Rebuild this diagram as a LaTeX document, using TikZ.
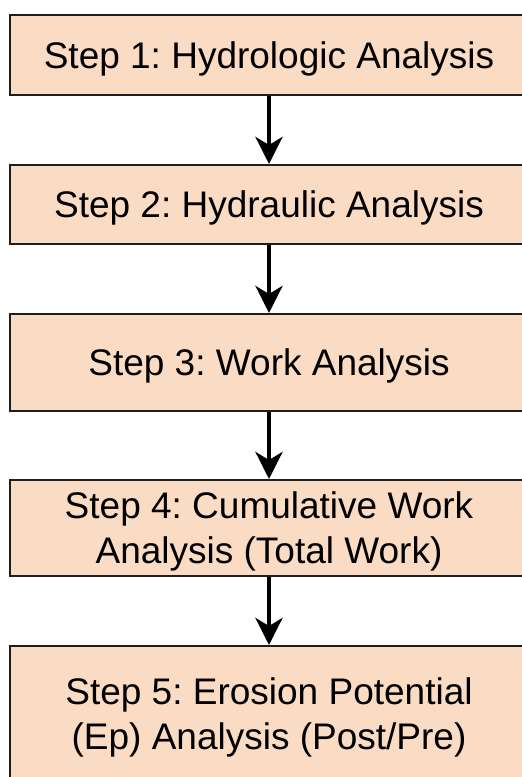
\documentclass[tikz,border=0pt]{standalone}
\usepackage{fontspec}
\setmainfont{Liberation Sans}
\usetikzlibrary{arrows.meta}
\definecolor{boxfill}{RGB}{250,219,196}
\definecolor{boxline}{RGB}{30,30,30}
\tikzset{
  stepbox/.style={draw=boxline, line width=2pt, fill=boxfill, minimum width=518pt,
    align=center, inner sep=0pt, text height=26.5pt, text depth=0pt,
    font=\fontsize{37}{45}\selectfont\frenchspacing},
  twoline/.style={text height=71.5pt, text depth=0pt},
  arr/.style={line width=4.5pt, -{Stealth[length=27pt,width=27pt,inset=8pt]}}
}
\begin{document}
\begin{tikzpicture}[x=1pt,y=-1pt]
\useasboundingbox (0,0) rectangle (522,777);
\clip (0,0) rectangle (522,777);
\node[stepbox, minimum height=80pt] (b1) at (269,55) {Step 1: Hydrologic Analysis};
\node[stepbox, minimum height=79pt] (b2) at (269,204.5) {Step 2: Hydraulic Analysis};
\node[stepbox, minimum height=97pt] (b3) at (269,362.5) {Step 3: Work Analysis};
\node[stepbox, twoline, minimum height=96pt] (b4) at (269,528) {Step 4: Cumulative Work\\Analysis (Total Work)};
\node[stepbox, twoline, minimum height=136pt] (b5) at (269,714) {Step 5: Erosion Potential\\(Ep) Analysis (Post/Pre)};
\draw[arr] (b1.south) -- (b2.north);
\draw[arr] (b2.south) -- (b3.north);
\draw[arr] (b3.south) -- (b4.north);
\draw[arr] (b4.south) -- (b5.north);
\end{tikzpicture}
\end{document}
